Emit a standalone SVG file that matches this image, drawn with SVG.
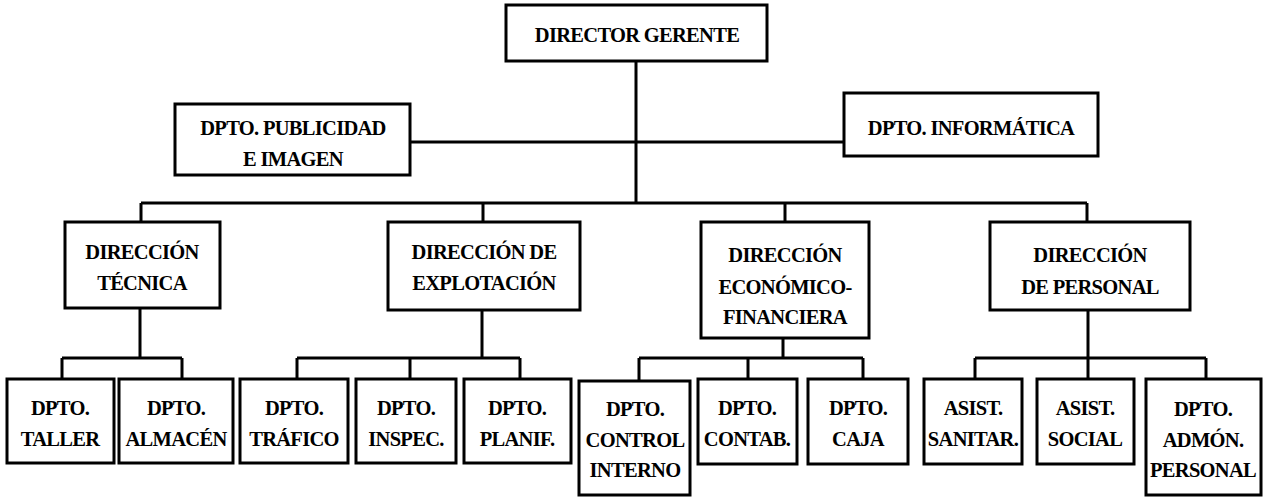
<svg xmlns="http://www.w3.org/2000/svg" width="1268" height="497" viewBox="0 0 1268 497">
<style>
.b{fill:#fff;stroke:#000;stroke-width:3}
.c{fill:none;stroke:#000;stroke-width:3}
text{font-family:"Liberation Serif","Times New Roman",serif;font-size:20.5px;font-weight:bold;text-anchor:middle;fill:#000;letter-spacing:-0.7px}
</style>
<rect width="1268" height="497" fill="#fff"/>
<g id="connectors">
<path class="c" d="M636 61V203M410 142H844M141 203H1087M141 203V222M483 203V222M785 203V222M1087 203V222"/>
<path class="c" d="M140 308V358M62 358H182M62 358V379M182 358V379"/>
<path class="c" d="M482 310V358M297 358H520M297 358V379M410 358V379M520 358V379"/>
<path class="c" d="M783 338V358M639 358H863M639 358V381M748 358V379M863 358V379"/>
<path class="c" d="M1088 310V358M975 358H1206M975 358V379M1088 358V379M1206 358V379"/>
</g>
<g id="director"><rect class="b" x="506" y="5" width="261" height="56"/><text x="637" y="42">DIRECTOR GERENTE</text></g>
<g id="publicidad"><rect class="b" x="175" y="104" width="235" height="71"/><text x="293" y="135">DPTO. PUBLICIDAD</text><text x="293" y="166">E IMAGEN</text></g>
<g id="informatica"><rect class="b" x="844" y="93" width="254" height="63"/><text x="971" y="135">DPTO. INFORMÁTICA</text></g>
<g id="dir-tecnica"><rect class="b" x="65" y="222" width="155" height="86"/><text x="142" y="259">DIRECCIÓN</text><text x="142" y="290">TÉCNICA</text></g>
<g id="dir-explotacion"><rect class="b" x="388" y="222" width="192" height="88"/><text x="484" y="259">DIRECCIÓN DE</text><text x="484" y="290">EXPLOTACIÓN</text></g>
<g id="dir-economico"><rect class="b" x="701" y="222" width="168" height="116"/><text x="785" y="262">DIRECCIÓN</text><text x="785" y="294">ECONÓMICO-</text><text x="785" y="324">FINANCIERA</text></g>
<g id="dir-personal"><rect class="b" x="990" y="222" width="200" height="88"/><text x="1090" y="262">DIRECCIÓN</text><text x="1090" y="294">DE PERSONAL</text></g>
<g id="taller"><rect class="b" x="7" y="379" width="107" height="84"/><text x="60" y="415">DPTO.</text><text x="60" y="446">TALLER</text></g>
<g id="almacen"><rect class="b" x="119" y="379" width="114" height="84"/><text x="176" y="415">DPTO.</text><text x="176" y="446">ALMACÉN</text></g>
<g id="trafico"><rect class="b" x="240" y="379" width="108" height="84"/><text x="294" y="415">DPTO.</text><text x="294" y="446">TRÁFICO</text></g>
<g id="inspec"><rect class="b" x="356" y="379" width="100" height="84"/><text x="406" y="415">DPTO.</text><text x="406" y="446">INSPEC.</text></g>
<g id="planif"><rect class="b" x="464" y="379" width="107" height="84"/><text x="517" y="415">DPTO.</text><text x="517" y="446">PLANIF.</text></g>
<g id="control"><rect class="b" x="579" y="381" width="111" height="114"/><text x="635" y="416">DPTO.</text><text x="635" y="447">CONTROL</text><text x="635" y="477">INTERNO</text></g>
<g id="contab"><rect class="b" x="698" y="379" width="99" height="85"/><text x="747" y="415">DPTO.</text><text x="747" y="446">CONTAB.</text></g>
<g id="caja"><rect class="b" x="808" y="379" width="100" height="85"/><text x="858" y="415">DPTO.</text><text x="858" y="446">CAJA</text></g>
<g id="sanitar"><rect class="b" x="924" y="379" width="98" height="85"/><text x="973" y="415">ASIST.</text><text x="973" y="446">SANITAR.</text></g>
<g id="social"><rect class="b" x="1037" y="379" width="97" height="85"/><text x="1085" y="415">ASIST.</text><text x="1085" y="446">SOCIAL</text></g>
<g id="admon"><rect class="b" x="1146" y="379" width="115" height="116"/><text x="1203" y="416">DPTO.</text><text x="1203" y="447">ADMÓN.</text><text x="1203" y="477">PERSONAL</text></g>
</svg>
